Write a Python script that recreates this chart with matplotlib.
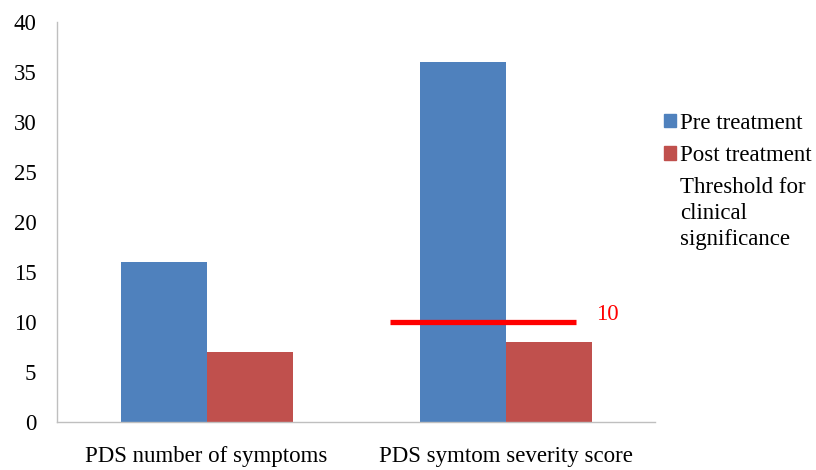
import matplotlib.pyplot as plt
import numpy as np
from matplotlib.patches import Patch
from matplotlib.lines import Line2D

plt.rcParams['font.family'] = ['Liberation Serif', 'DejaVu Serif']

# Data
categories = ["PDS number of symptoms", "PDS symtom severity score"]
pre_vals = [16, 36]
post_vals = [7, 8]
threshold = 10
series_names = ["Pre treatment", "Post treatment", "Threshold for\nclinical\nsignificance"]

BLUE, RED, LINE_RED, GREY = "#4F81BD", "#C0504D", "#FF0000", "#BFBFBF"
FS = 16.5

fig = plt.figure(figsize=(8.16, 4.70), dpi=100)
ax = fig.add_axes([0.07, 0.102, 0.733, 0.851])

x = np.arange(len(categories))
w = 0.2875
ax.bar(x - w / 2, pre_vals, w, color=BLUE)
ax.bar(x + w / 2, post_vals, w, color=RED)

# threshold line across the second group
ax.plot([0.614, 1.236], [threshold, threshold], color=LINE_RED, lw=3.8, solid_capstyle='butt')
ax.text(1.34, threshold + 0.8, str(threshold), color=LINE_RED, fontsize=FS,
        va='center', ha='center')

ax.set_xlim(-0.5, 1.5)
ax.set_ylim(0, 40)
ax.set_yticks(range(0, 41, 5))
ax.set_xticks(x)
ax.set_xticklabels(categories, fontsize=FS)
ax.tick_params(axis='y', labelsize=FS, length=0, pad=15)
ax.tick_params(axis='x', length=0, pad=17.5)
for s in ["top", "right"]:
    ax.spines[s].set_visible(False)
for s in ["left", "bottom"]:
    ax.spines[s].set_color(GREY)
    ax.spines[s].set_linewidth(1.0)

handles = [Patch(color=BLUE), Patch(color=RED), Line2D([], [], color='none')]
leg = fig.legend(handles, series_names, loc='upper left', bbox_to_anchor=(0.802, 0.78),
                 frameon=False, fontsize=FS, handlelength=0.55, handleheight=0.55,
                 handletextpad=0.15, labelspacing=0.5, borderaxespad=0)
for t in leg.get_texts():
    t.set_linespacing(1.3)

fig.savefig("out.png", dpi=100)
